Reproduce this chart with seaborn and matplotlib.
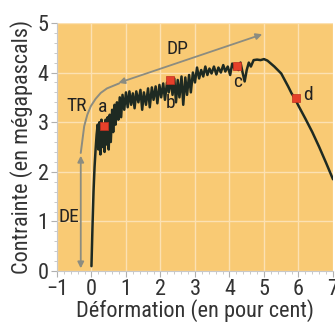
import numpy as np
import pandas as pd
import matplotlib
matplotlib.use("Agg")
import matplotlib.pyplot as plt
from matplotlib.ticker import MultipleLocator
import seaborn as sns

# stress-strain curve
strain = [0.00, 0.03, 0.06, 0.09, 0.12, 0.15,
          0.18, 0.20, 0.23, 0.26, 0.29, 0.32, 0.35, 0.38, 0.41, 0.44, 0.47, 0.50,
          0.53, 0.56, 0.60, 0.63, 0.67, 0.70, 0.74, 0.78, 0.82, 0.86, 0.90, 0.95, 1.00,
          1.05, 1.10, 1.15, 1.20, 1.25, 1.30, 1.36, 1.42, 1.47, 1.52, 1.58, 1.64,
          1.69, 1.75, 1.80, 1.86, 1.91, 1.97, 2.02, 2.08, 2.13, 2.19, 2.24, 2.30,
          2.35, 2.40, 2.45, 2.50, 2.55, 2.61, 2.66, 2.72, 2.77, 2.83, 2.88, 2.94, 3.00,
          3.06, 3.12, 3.18, 3.24, 3.30, 3.36, 3.42, 3.48, 3.55, 3.62, 3.68, 3.75,
          3.82, 3.88, 3.95, 4.02, 4.08, 4.14, 4.20, 4.26, 4.32, 4.38, 4.44, 4.50,
          4.56, 4.62, 4.70, 4.80, 4.90, 5.00, 5.10, 5.20, 5.30, 5.40, 5.50, 5.60,
          5.70, 5.80, 5.90, 6.00, 6.10, 6.20, 6.40, 6.60, 6.80, 7.00]
stress = [0.10, 0.90, 1.60, 2.10, 2.45, 2.75,
          2.95, 2.45, 3.00, 2.35, 3.05, 2.50, 2.95, 2.40, 3.05, 2.55, 3.10, 2.45,
          3.15, 2.60, 3.25, 2.80, 3.35, 2.95, 3.40, 3.05, 3.50, 3.10, 3.55, 3.25, 3.60,
          3.30, 3.62, 3.35, 3.58, 3.28, 3.62, 3.40, 3.65, 3.25, 3.60, 3.35, 3.68,
          3.30, 3.70, 3.45, 3.72, 3.38, 3.75, 3.50, 3.78, 3.45, 3.80, 3.60, 3.85,
          3.55, 3.88, 3.40, 3.85, 3.50, 3.92, 3.35, 3.90, 3.55, 3.95, 3.60, 4.00, 3.80,
          4.10, 3.88, 4.05, 3.92, 4.12, 3.95, 4.08, 3.98, 4.12, 3.96, 4.10, 4.00,
          4.15, 4.02, 4.12, 3.95, 4.18, 4.08, 4.14, 4.05, 4.20, 4.00, 3.82, 4.05,
          4.20, 4.12, 4.25, 4.26, 4.25, 4.27, 4.24, 4.18, 4.12, 4.05, 3.98, 3.85,
          3.72, 3.58, 3.47, 3.33, 3.20, 3.07, 2.80, 2.50, 2.18, 1.85]

# red points a-d
pt_names = ["a", "b", "c", "d"]
pt_x = [0.36, 2.28, 4.21, 5.92]
pt_y = [2.93, 3.85, 4.13, 3.48]
pt_label_x = [0.33, 2.30, 4.23, 6.27]
pt_label_y = [3.30, 3.38, 3.80, 3.55]

# grey annotation guides
de_x = -0.31
de_y = [0.0, 2.38]
tr_x = [-0.31, -0.26, -0.21, -0.12, -0.02, 0.12, 0.27, 0.45, 0.66, 0.80]
tr_y = [2.38, 2.65, 2.92, 3.15, 3.32, 3.47, 3.59, 3.68, 3.74, 3.78]
dp_start = (0.78, 3.79)
dp_end = (4.95, 4.77)
zone_names = ["TR", "DP", "DE"]
zone_x = [-0.43, 2.49, -0.65]
zone_y = [3.32, 4.47, 1.09]

sns.set_theme(style="white")
font = ["Liberation Sans Narrow", "Roboto Condensed", "Lato", "DejaVu Sans"]
plt.rcParams["font.family"] = font

fig = plt.figure(figsize=(3.35, 3.22), dpi=100)
fig.patch.set_facecolor("white")
ax = fig.add_axes([0.170, 0.158, 0.824, 0.771])
ax.set_facecolor("#F9CA74")

curve = pd.DataFrame({"x": strain, "y": stress})
sns.lineplot(data=curve, x="x", y="y", sort=False, color="#1e2a22", lw=1.8, ax=ax, zorder=4)

pts = pd.DataFrame({"x": pt_x, "y": pt_y})
sns.scatterplot(data=pts, x="x", y="y", marker="s", s=28, color="#e5402a",
                edgecolor="#c03020", linewidth=0.5, ax=ax, zorder=5)
for n, lx, ly in zip(pt_names, pt_label_x, pt_label_y):
    ax.text(lx, ly, n, fontsize=14, ha="center", va="center", color="#222222", zorder=6)

grey = "#8c8c80"
ax.annotate("", xy=(de_x, de_y[0]), xytext=(de_x, de_y[1]),
            arrowprops=dict(arrowstyle="<|-|>", color=grey, lw=1.3, mutation_scale=9), zorder=3)
ax.plot(tr_x, tr_y, color=grey, lw=1.4, zorder=3)
ax.annotate("", xy=dp_start, xytext=dp_end,
            arrowprops=dict(arrowstyle="<|-|>", color=grey, lw=1.3, mutation_scale=9,
                            shrinkA=0, shrinkB=0), zorder=3)
for n, zx, zy in zip(zone_names, zone_x, zone_y):
    ax.text(zx, zy, n, fontsize=14, ha="center", va="center", color="#222222", zorder=6)

ax.set_xlim(-1, 7)
ax.set_ylim(0, 5)
ax.xaxis.set_major_locator(MultipleLocator(1))
ax.yaxis.set_major_locator(MultipleLocator(1))
ax.xaxis.set_minor_locator(MultipleLocator(0.2))
ax.yaxis.set_minor_locator(MultipleLocator(0.2))
ax.grid(True, which="major", color="#FCE1B2", lw=1.0)
ax.set_axisbelow(True)
for s in ["top", "right"]:
    ax.spines[s].set_visible(False)
for s in ["left", "bottom"]:
    ax.spines[s].set_color("#c8c8c8")
    ax.spines[s].set_linewidth(0.8)
ax.tick_params(which="major", direction="out", length=4, width=0.8, color="#b0b0b0",
               labelsize=16, labelcolor="#333333", pad=2)
ax.tick_params(which="minor", direction="out", length=2, width=0.6, color="#c0c0c0")
ax.tick_params(axis="x", bottom=True, which="both")
ax.tick_params(axis="y", left=True, which="both")
ax.set_xlabel("Déformation (en pour cent)", fontsize=16, color="#333333", labelpad=-1)
ax.set_ylabel("Contrainte (en mégapascals)", fontsize=16, color="#333333", labelpad=3)

fig.savefig("out.png", dpi=100)
